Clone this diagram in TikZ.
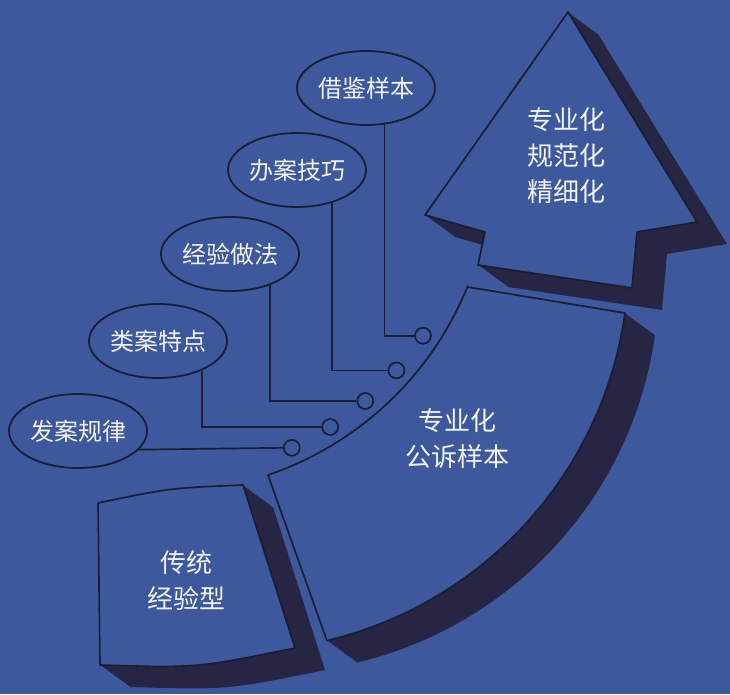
\documentclass[tikz,border=0pt]{standalone}
\usepackage{fontspec}
\setmainfont{Noto Sans CJK SC}
\usepackage{tikz}
\usetikzlibrary{shapes.geometric}
\definecolor{bgblue}{RGB}{61,88,156}
\definecolor{inkdark}{RGB}{26,29,52}
\definecolor{sidedark}{RGB}{38,38,68}
\definecolor{paperwhite}{RGB}{244,244,248}

% outlines of the three stages (pixel grid, y pointing down)
\newcommand{\shapeArrow}{(568,12) -- (697,222) -- (637,232) -- (632,288) -- (478,265) -- (485,232) -- (425,215) -- cycle}
\newcommand{\shapeBand}{(468,287) -- (625,313) arc[start angle=8, end angle=76.6, radius=393] -- (268,475) arc[start angle=71.2, end angle=22, radius=330] -- cycle}
\newcommand{\shapeBase}{(98,503) .. controls (170,488) .. (243,485) -- (295,648) .. controls (197,668) .. (100,665) -- cycle}

\begin{document}
\begin{tikzpicture}[x=1pt, y=-1pt,
  topic/.style={draw=inkdark, line width=1.8pt, ellipse, minimum width=138pt, minimum height=74pt, inner sep=0pt, text=paperwhite, font=\fontsize{24}{30}\selectfont},
  ring/.style={draw=inkdark, line width=1.7pt, circle, minimum size=16pt, inner sep=0pt},
  wire/.style={draw=inkdark, line width=1.7pt},
  stage/.style={fill=bgblue, draw=inkdark, line width=1.7pt, line join=round},
  sidewall/.style={fill=sidedark},
  stagetext/.style={text=paperwhite, align=center, font=\fontsize{26}{36}\selectfont}]

% Background
\fill[bgblue] (0,0) rectangle (730,694);

% Extruded sides
\foreach \s in {0,...,30}{
  \fill[sidewall, shift={(\s,0.733*\s)}] \shapeArrow;
  \fill[sidewall, shift={(\s,0.733*\s)}] \shapeBand;
  \fill[sidewall, shift={(\s,0.733*\s)}] \shapeBase;
}

% Stages
\path[stage] \shapeArrow;
\path[stage] \shapeBand;
\path[stage] \shapeBase;

\node[stagetext] (goal) at (566,156) {专业化\\规范化\\精细化};
\node[stagetext] (band) at (457,439) {专业化\\公诉样本};
\node[stagetext] (base) at (186,580) {传统\\经验型};

% Sources
\node[topic] (jiejian) at (366,88) {借鉴样本};
\node[topic] (banan) at (297,170) {办案技巧};
\node[topic] (jingyan) at (230,254) {经验做法};
\node[topic] (leian) at (158,341) {类案特点};
\node[topic] (faan) at (78,431) {发案规律};

% Sockets along the band
\coordinate (hub) at (162,163);
\foreach \a [count=\i] in {33.5,41.5,49.5,57.5,65.5}
  \node[ring] (r\i) at ([shift={(\a:313)}]hub) {};

% Wires
\draw[wire] (jiejian.-63) |- (r1.west);
\draw[wire] (banan.-43) |- (r2.west);
\draw[wire] (jingyan.-38) |- (r3.west);
\draw[wire] (leian.-34) |- (r4.west);
\draw[wire] (faan.-17) -- (r5.west);
\end{tikzpicture}
\end{document}
